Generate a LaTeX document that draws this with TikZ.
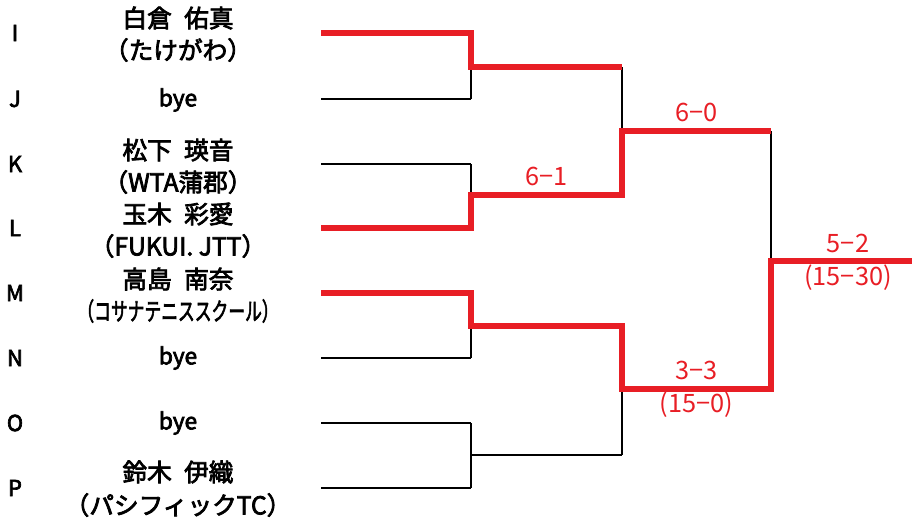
\documentclass[tikz,border=0pt]{standalone}
\usepackage{fontspec}
\usepackage{graphicx}
\setmainfont{Liberation Sans}
\newfontfamily\jpfont{Noto Sans CJK JP}
\newfontfamily\jpmid[FakeBold=3]{Noto Sans CJK JP}
\usetikzlibrary{positioning}
\definecolor{winred}{RGB}{232,30,37}
\newcommand{\namegap}{\hspace{0.5em}}

\begin{document}
\begin{tikzpicture}[x=0.75pt, y=-0.75pt,
    lose/.style={line width=1.1pt, black},
    win/.style={line width=4pt, winred, line join=miter},
    seed/.style={font=\jpmid\fontsize{16.5}{16.5}\selectfont, inner sep=0pt},
    entry/.style={font=\jpmid\fontsize{18.5}{18.5}\selectfont, inner sep=0pt},
    bye/.style={font=\jpmid\fontsize{17}{17}\selectfont, inner sep=0pt},
    score/.style={font=\jpfont\fontsize{19}{19}\selectfont, text=winred, inner sep=0pt}]

    \useasboundingbox (0,0) rectangle (912,519);

    % Draw first round lines and seed letters
    \foreach \s/\y in {I/33, J/99, K/164, L/228, M/293, N/358, O/423, P/488} {
      \node[seed] (seed\s) at (15,\y) {\s};
      \coordinate (\s0) at (321,\y);
      \coordinate (\s1) at (471,\y);
      \draw[lose] (\s0) -- (\s1);
    }

    % Draw matches: join the two lines, winner line leaves from the middle
    \foreach \a/\b/\m/\y/\x/\xx in {I/J/IJ/67/471/622, K/L/KL/195/471/622, M/N/MN/326/471/622, O/P/OP/455/471/622, IJ/KL/T/131/622/771, MN/OP/B/389/622/771} {
      \coordinate (\m0) at (\x,\y);
      \coordinate (\m1) at (\xx,\y);
      \draw[lose] (\a1) -- (\b1);
      \draw[lose] (\m0) -- (\m1);
    }

    % Final
    \coordinate (F0) at (771,261);
    \coordinate (F1) at (912,261);
    \draw[lose] (T1) -- (B1);
    \draw[lose] (F0) -- (F1);

    % Winners in red
    \draw[win] (I0) -- (I1) -- (IJ0) -- (IJ1);
    \draw[win] (L0) -- (L1) -- (KL0) -- (KL1) -- (T0) -- (T1);
    \draw[win] (M0) -- (M1) -- (MN0) -- (MN1) -- (B0) -- (B1) -- (F0) -- (F1);

    % Players
    \node[entry] (nameI) at (178,18) {白倉\namegap 佑真};
    \node[entry] (clubI) at (178,50) {（たけがわ）};
    \node[bye] (nameJ) at (178,100) {bye};
    \node[entry] (nameK) at (178,150) {松下\namegap 瑛音};
    \node[entry] (clubK) at (178,182) {（WTA蒲郡）};
    \node[entry] (nameL) at (178,214) {玉木\namegap 彩愛};
    \node[entry] (clubL) at (178,246) {（FUKUI. JTT）};
    \node[entry] (nameM) at (178,279) {高島\namegap 南奈};
    \node[entry] (clubM) at (178,311) {\scalebox{0.68}[1]{（コサナテニススクール）}};
    \node[bye] (nameN) at (178,358) {bye};
    \node[bye] (nameO) at (178,423) {bye};
    \node[entry] (nameP) at (178,472) {鈴木\namegap 伊織};
    \node[entry] (clubP) at (178,505) {（パシフィックTC）};

    % Scores
    \path (KL0) -- (KL1) node[score, midway, above=7pt] (scoreKL) {6−1};
    \path (T0) -- (T1) node[score, midway, above=7pt] (scoreT) {6−0};
    \path (B0) -- (B1) node[score, midway, above=7pt] (scoreB) {3−3};
    \node[score, below=9pt of scoreB.south] (tieB) {(15−0)};
    \node[score, above=4pt] (scoreF) at (848,258) {5−2};
    \node[score, below=9pt of scoreF.south] (tieF) {(15−30)};
\end{tikzpicture}
\end{document}
